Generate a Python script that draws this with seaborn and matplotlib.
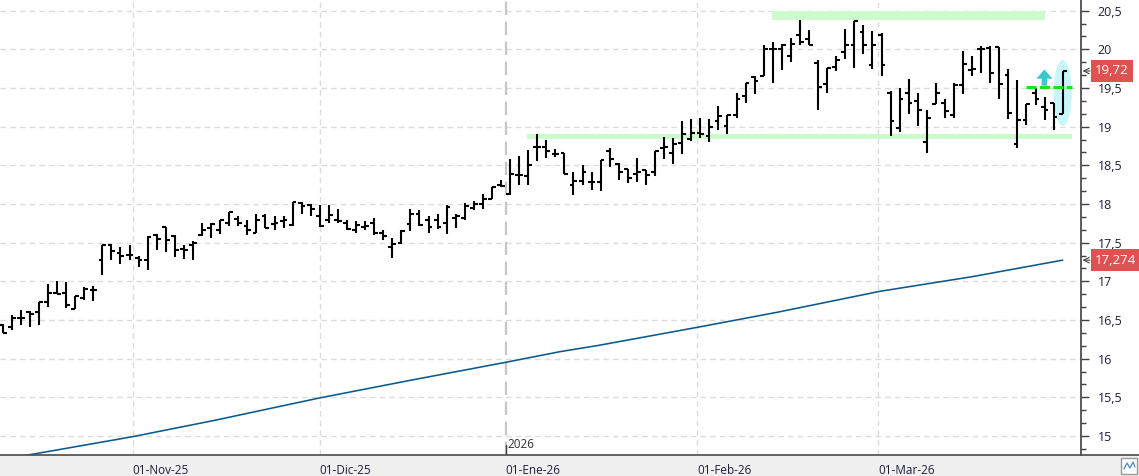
import numpy as np
import pandas as pd
import matplotlib
matplotlib.use("Agg")
import matplotlib.pyplot as plt
import matplotlib.transforms as mtransforms
from matplotlib.patches import Ellipse, Rectangle, FancyArrow
from matplotlib.lines import Line2D
from matplotlib.ticker import MultipleLocator, FixedLocator
import seaborn as sns

# ---------------- data ----------------
holidays = ["2025-12-25", "2025-12-26", "2026-01-01"]
dates = pd.bdate_range("2025-10-13", "2026-03-30")
dates = dates[~dates.isin(pd.to_datetime(holidays))]

opens = [16.44, 16.41, 16.53, 16.60, 16.60, 16.73, 16.85, 16.85, 16.64, 16.79,
         16.89, 17.27, 17.47, 17.36, 17.34, 17.30, 17.27, 17.60, 17.70, 17.58,
         17.42, 17.47, 17.60, 17.69, 17.66, 17.75, 17.81, 17.71, 17.62, 17.84,
         17.74, 17.78, 17.73, 18.01, 17.99, 17.84, 17.79, 17.79, 17.76, 17.66,
         17.70, 17.76, 17.63, 17.45, 17.49, 17.74, 17.87, 17.79, 17.79, 17.76,
         17.82, 17.82, 17.95, 18.00, 18.06, 18.25, 18.13, 18.38, 18.36, 18.74,
         18.74, 18.65, 18.66, 18.25, 18.30, 18.29, 18.29, 18.68, 18.52, 18.45,
         18.39, 18.44, 18.41, 18.73, 18.66, 18.79, 18.84, 18.92, 18.88, 19.07,
         19.01, 19.15, 19.40, 19.64, 19.66, 20.00, 20.01, 19.92, 20.19, 20.14,
         19.82, 19.55, 19.77, 19.96, 20.05, 20.22, 19.80, 20.19, 19.44, 18.98,
         19.43, 19.33, 18.80, 19.29, 19.30, 19.15, 19.54, 19.73, 20.00, 20.02,
         20.03, 19.67, 18.78, 19.08, 19.44, 19.26, 19.31, 19.17]
highs = [16.45, 16.56, 16.63, 16.62, 16.73, 16.97, 17.00, 16.99, 16.81, 16.93,
         16.94, 17.47, 17.48, 17.44, 17.47, 17.33, 17.58, 17.61, 17.70, 17.60,
         17.47, 17.52, 17.76, 17.76, 17.79, 17.90, 17.85, 17.79, 17.87, 17.87,
         17.85, 17.84, 18.03, 18.03, 18.00, 17.99, 17.99, 17.93, 17.79, 17.78,
         17.78, 17.82, 17.66, 17.56, 17.66, 17.93, 17.92, 17.85, 17.87, 17.99,
         17.87, 18.01, 18.04, 18.13, 18.22, 18.31, 18.58, 18.62, 18.70, 18.91,
         18.83, 18.71, 18.66, 18.41, 18.50, 18.41, 18.57, 18.72, 18.53, 18.45,
         18.60, 18.44, 18.68, 18.87, 18.85, 19.07, 19.10, 19.11, 19.10, 19.27,
         19.15, 19.43, 19.57, 19.66, 20.06, 20.09, 20.07, 20.15, 20.38, 20.25,
         19.86, 19.76, 19.91, 20.26, 20.36, 20.32, 20.24, 20.21, 19.46, 19.50,
         19.61, 19.44, 19.21, 19.57, 19.36, 19.57, 19.98, 19.91, 20.04, 20.04,
         20.03, 19.75, 19.60, 19.29, 19.50, 19.39, 19.31, 19.72]
lows = [16.33, 16.37, 16.43, 16.41, 16.43, 16.67, 16.84, 16.66, 16.64, 16.76,
        16.75, 17.08, 17.27, 17.22, 17.28, 17.19, 17.15, 17.40, 17.38, 17.32,
        17.29, 17.28, 17.58, 17.56, 17.61, 17.72, 17.72, 17.60, 17.62, 17.69,
        17.66, 17.69, 17.72, 17.87, 17.84, 17.70, 17.76, 17.76, 17.66, 17.62,
        17.66, 17.60, 17.54, 17.30, 17.48, 17.65, 17.72, 17.62, 17.68, 17.61,
        17.69, 17.79, 17.92, 17.94, 18.06, 18.22, 18.11, 18.24, 18.25, 18.55,
        18.60, 18.61, 18.39, 18.12, 18.24, 18.18, 18.17, 18.48, 18.31, 18.27,
        18.28, 18.25, 18.36, 18.58, 18.52, 18.65, 18.82, 18.85, 18.80, 18.96,
        18.90, 19.11, 19.30, 19.42, 19.65, 19.56, 19.73, 19.83, 20.05, 20.05,
        19.22, 19.43, 19.72, 19.88, 19.76, 19.94, 19.75, 19.65, 18.88, 18.93,
        19.16, 19.01, 18.66, 19.29, 19.11, 19.11, 19.42, 19.66, 19.70, 19.57,
        19.36, 19.10, 18.72, 19.02, 19.28, 19.08, 18.96, 19.16]
closes = [16.33, 16.52, 16.53, 16.58, 16.73, 16.85, 16.84, 16.70, 16.81, 16.90,
          16.89, 17.47, 17.39, 17.33, 17.34, 17.28, 17.57, 17.55, 17.53, 17.41,
          17.41, 17.49, 17.66, 17.74, 17.79, 17.90, 17.76, 17.66, 17.79, 17.69,
          17.76, 17.79, 18.03, 17.98, 17.93, 17.71, 17.86, 17.78, 17.68, 17.73,
          17.71, 17.63, 17.58, 17.48, 17.65, 17.87, 17.73, 17.70, 17.70, 17.96,
          17.85, 17.98, 18.00, 18.07, 18.22, 18.23, 18.39, 18.37, 18.50, 18.74,
          18.68, 18.65, 18.39, 18.30, 18.41, 18.29, 18.57, 18.58, 18.41, 18.34,
          18.41, 18.37, 18.68, 18.74, 18.78, 18.90, 18.92, 18.90, 18.99, 19.14,
          19.15, 19.36, 19.56, 19.59, 20.00, 20.00, 20.06, 20.07, 20.09, 20.05,
          19.51, 19.76, 19.86, 20.05, 20.36, 20.05, 20.05, 19.80, 19.07, 19.36,
          19.30, 19.21, 19.11, 19.43, 19.20, 19.54, 19.81, 19.74, 20.00, 19.69,
          19.55, 19.18, 19.08, 19.29, 19.36, 19.21, 19.13, 19.72]

# 200-session moving average, values read at selected sessions
ma_idx = [0, 3.6, 14.3, 23.3, 34.9, 45.0, 55.4, 61.5, 65.7, 76.9, 85.5, 96.8, 107.0, 117.0]
ma_val = [14.70, 14.77, 14.99, 15.20, 15.49, 15.72, 15.95, 16.09, 16.17, 16.41,
          16.60, 16.87, 17.06, 17.274]

month_dates = ["2025-11-01", "2025-12-01", "2026-01-01", "2026-02-01", "2026-03-01"]
month_labels = ["01-Nov-25", "01-Dic-25", "01-Ene-26", "01-Feb-26", "01-Mar-26"]
y_ticks = [15, 15.5, 16, 16.5, 17, 17.5, 18, 18.5, 19, 19.5, 20, 20.5]

resistance_level = 20.435
resistance_span = (84.87, 115.04)
support_level = 18.87
support_span = (57.84, 117.98)
breakout_level = 19.51
breakout_span = (112.94, 117.98)
arrow_pos = 114.98
last_price = 19.72
ma_last = 17.274

# ---------------- figure ----------------
sns.set_style("white")
plt.rcParams['font.family'] = ['Open Sans', 'DejaVu Sans']

W, H = 1139, 476
fig = plt.figure(figsize=(W / 100, H / 100), dpi=100)
fig.patch.set_facecolor("white")
band_h = 21 / H
ax = fig.add_axes([0, band_h, 1081 / W, 455 / H])

# bottom grey band
fig.add_artist(Rectangle((0, 0), 1, band_h, transform=fig.transFigure,
                         facecolor="#f0f0f0", edgecolor="none", zorder=-5))
fig.add_artist(Line2D([0, 1], [band_h, band_h], transform=fig.transFigure,
                      color="#4a4a4a", lw=1.2, zorder=5))

n = len(opens)
x = np.arange(n)
ax.set_xlim(-0.3, 119.02)
ax.set_ylim(14.754, 20.638)

# month positions on the session axis
ords = np.array([d.toordinal() for d in dates])
month_pos = np.interp([pd.Timestamp(d).toordinal() for d in month_dates], ords, x)

# grid
for yv in y_ticks:
    ax.axhline(yv, color="#dcdcdc", lw=1, ls=(0, (4, 3)), zorder=0.5)
for i, p in enumerate(month_pos):
    if month_dates[i].endswith("01-01"):
        ax.axvline(p, color="#c6c6c6", lw=1.6, ls=(0, (6, 3)), zorder=0.5)
        ax.axvline(p, ymin=0, ymax=10 / 455, color="#404040", lw=1, zorder=5)
        ax.text(p + 0.25, 14.885, str(pd.Timestamp(month_dates[i]).year),
                fontsize=8.5, color="#333333", va="center", ha="left")
    else:
        ax.axvline(p, color="#dcdcdc", lw=1, ls=(0, (4, 3)), zorder=0.5)

# support / resistance bands
ax.add_patch(Rectangle((resistance_span[0], resistance_level - 0.055),
                       resistance_span[1] - resistance_span[0], 0.11,
                       facecolor="#ccfccc", edgecolor="none", zorder=1))
ax.add_patch(Rectangle((support_span[0], support_level - 0.03),
                       support_span[1] - support_span[0], 0.06,
                       facecolor="#ccfccc", edgecolor="none", zorder=1))

# highlight ellipse on last bar
ax.add_patch(Ellipse((x[-1], 19.436), width=2.0, height=0.853,
                     facecolor="#c9f6f9", edgecolor="none", zorder=1))

# moving average
sns.lineplot(x=ma_idx, y=ma_val, ax=ax, color="#0a5a8c", lw=1.15, zorder=2)

# OHLC bars
ax.vlines(x, lows, highs, color="black", lw=1.5, zorder=3)
ax.hlines(opens, x - 0.42, x, color="black", lw=1.5, zorder=3)
ax.hlines(closes, x, x + 0.42, color="black", lw=1.5, zorder=3)

# breakout dashed line and arrow
ax.hlines(breakout_level, breakout_span[0], breakout_span[1], colors="#1ee01e",
          lw=2.2, linestyles=(0, (3.3, 1.1)), zorder=4)
ax.add_patch(FancyArrow(arrow_pos, 19.53, 0, 0.21, width=0.62, head_width=1.77,
                        head_length=0.12, length_includes_head=True,
                        facecolor="#3cc8c8", edgecolor="none", zorder=4))

# axes styling
for s in ["left", "top", "bottom"]:
    ax.spines[s].set_visible(False)
ax.spines["right"].set_color("#404040")
ax.spines["right"].set_linewidth(1.2)

ax.yaxis.tick_right()
ax.yaxis.set_major_locator(FixedLocator(y_ticks))
ax.set_yticklabels([f"{v:g}".replace(".", ",") for v in y_ticks])
ax.yaxis.set_minor_locator(MultipleLocator(0.5 / 3))
ax.tick_params(axis="y", which="major", length=6, width=1, color="#404040",
               pad=6, labelsize=9, labelcolor="#1e1e3c")
ax.tick_params(axis="y", which="minor", length=3.5, width=1, color="#404040")

ax.set_xticks(month_pos)
ax.set_xticklabels(month_labels)
ax.tick_params(axis="x", length=6, width=1, color="#404040", pad=0.5,
               labelsize=8.5, labelcolor="#1e1e3c")
for lab in ax.get_xticklabels():
    lab.set_ha("left")
ax.set_xlabel("")
ax.set_ylabel("")
ax.grid(False)

# price labels on the right axis
trans = mtransforms.blended_transform_factory(ax.transAxes, ax.transData)
for val, txt in [(last_price, "19,72"), (ma_last, "17,274")]:
    ax.text(1095 / 1081, val, txt, transform=trans, color="white", fontsize=9.5,
            va="center", ha="left", clip_on=False, zorder=6,
            bbox=dict(boxstyle="square,pad=0.32", facecolor="#e05252", edgecolor="none"))
    ax.annotate("", xy=(1082.5 / 1081, val), xytext=(1090 / 1081, val),
                xycoords=trans, textcoords=trans,
                arrowprops=dict(arrowstyle="->", color="#444444", lw=0.8,
                                shrinkA=0, shrinkB=0), annotation_clip=False)

# small chart-type icon at bottom right
fig.add_artist(Rectangle((1121 / W, 2 / H), 16 / W, 16 / H, transform=fig.transFigure,
                         facecolor="white", edgecolor="#9a9a9a", lw=1, zorder=6))
fig.add_artist(Line2D(np.array([1124, 1127, 1130, 1133, 1135]) / W,
                      np.array([7, 13, 8, 14, 9]) / H, transform=fig.transFigure,
                      color="#5b8fc9", lw=1, zorder=7))

fig.savefig("out.png", dpi=100, facecolor="white")
